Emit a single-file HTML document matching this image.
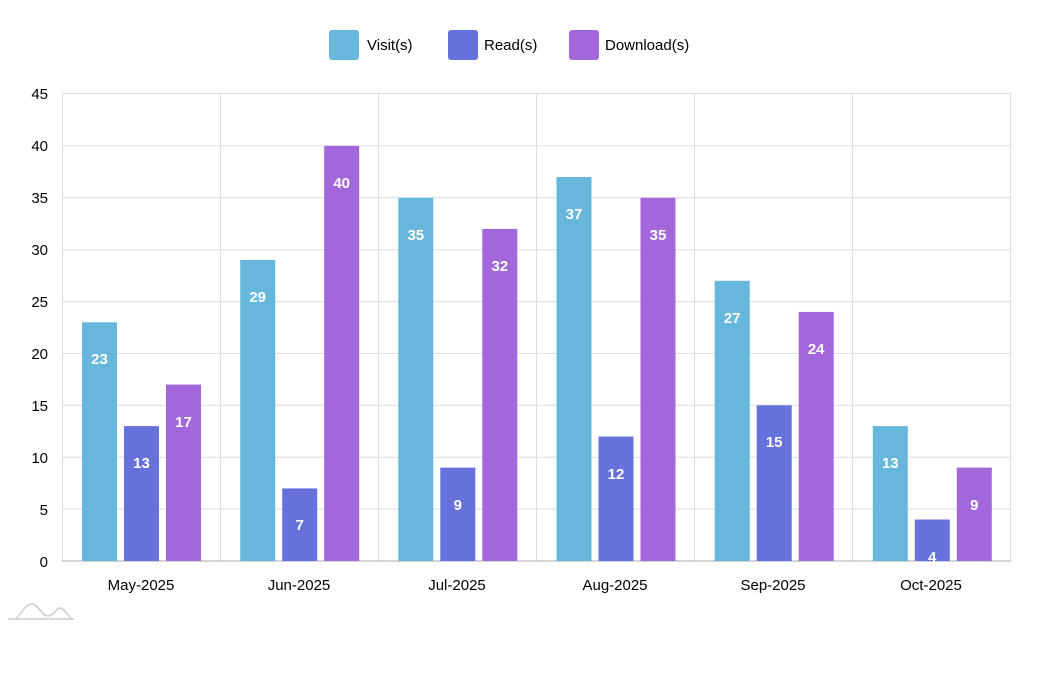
<!DOCTYPE html>
<html><head><meta charset="utf-8"><style>
html,body{margin:0;padding:0;background:#fff;}
svg text{font-family:"Liberation Sans",sans-serif;}
</style></head><body>
<svg width="1037" height="677" viewBox="0 0 1037 677" xmlns="http://www.w3.org/2000/svg">
<!-- legend -->
<rect x="329" y="30" width="30" height="30" rx="3" fill="#67b7dc"/>
<text x="367" y="50" font-size="15" fill="#000">Visit(s)</text>
<rect x="448" y="30" width="30" height="30" rx="3" fill="#6771dc"/>
<text x="484" y="50" font-size="15" fill="#000">Read(s)</text>
<rect x="569" y="30" width="30" height="30" rx="3" fill="#a367dc"/>
<text x="605" y="50" font-size="15" fill="#000">Download(s)</text>
<!-- grid -->
<g stroke="#dcdcdc" stroke-width="1">
<line x1="62" y1="93.5" x2="1011" y2="93.5"/>
<line x1="62" y1="145.9" x2="1011" y2="145.9"/>
<line x1="62" y1="197.8" x2="1011" y2="197.8"/>
<line x1="62" y1="249.7" x2="1011" y2="249.7"/>
<line x1="62" y1="301.6" x2="1011" y2="301.6"/>
<line x1="62" y1="353.4" x2="1011" y2="353.4"/>
<line x1="62" y1="405.3" x2="1011" y2="405.3"/>
<line x1="62" y1="457.2" x2="1011" y2="457.2"/>
<line x1="62" y1="509.1" x2="1011" y2="509.1"/>
<line x1="62.5" y1="93" x2="62.5" y2="561"/>
<line x1="220.5" y1="93" x2="220.5" y2="561"/>
<line x1="378.5" y1="93" x2="378.5" y2="561"/>
<line x1="536.5" y1="93" x2="536.5" y2="561"/>
<line x1="694.5" y1="93" x2="694.5" y2="561"/>
<line x1="852.5" y1="93" x2="852.5" y2="561"/>
<line x1="1010.5" y1="93" x2="1010.5" y2="561"/>
</g>
<line x1="62" y1="561" x2="1011" y2="561" stroke="#aaa" stroke-width="1"/>
<!-- y labels -->
<g font-size="15" fill="#000" text-anchor="end">
<text x="48" y="99">45</text><text x="48" y="151">40</text><text x="48" y="203">35</text>
<text x="48" y="255">30</text><text x="48" y="307">25</text><text x="48" y="359">20</text>
<text x="48" y="411">15</text><text x="48" y="463">10</text><text x="48" y="515">5</text>
<text x="48" y="567">0</text>
</g>
<!-- x labels -->
<g font-size="15" fill="#000" text-anchor="middle">
<text x="141" y="590">May-2025</text><text x="299" y="590">Jun-2025</text>
<text x="457" y="590">Jul-2025</text><text x="615" y="590">Aug-2025</text>
<text x="773" y="590">Sep-2025</text><text x="931" y="590">Oct-2025</text>
</g>
<!-- bars -->
<g>
<rect x="82" y="322.3" width="35" height="238.7" fill="#67b7dc"/>
<rect x="124" y="426.1" width="35" height="134.9" fill="#6771dc"/>
<rect x="166" y="384.6" width="35" height="176.4" fill="#a367dc"/>
<rect x="240.2" y="260" width="35" height="301" fill="#67b7dc"/>
<rect x="282.2" y="488.4" width="35" height="72.6" fill="#6771dc"/>
<rect x="324.2" y="145.9" width="35" height="415.1" fill="#a367dc"/>
<rect x="398.3" y="197.8" width="35" height="363.2" fill="#67b7dc"/>
<rect x="440.3" y="467.6" width="35" height="93.4" fill="#6771dc"/>
<rect x="482.3" y="228.9" width="35" height="332.1" fill="#a367dc"/>
<rect x="556.5" y="177" width="35" height="384" fill="#67b7dc"/>
<rect x="598.5" y="436.5" width="35" height="124.5" fill="#6771dc"/>
<rect x="640.5" y="197.8" width="35" height="363.2" fill="#a367dc"/>
<rect x="714.7" y="280.8" width="35" height="280.2" fill="#67b7dc"/>
<rect x="756.7" y="405.3" width="35" height="155.7" fill="#6771dc"/>
<rect x="798.7" y="311.9" width="35" height="249.1" fill="#a367dc"/>
<rect x="872.8" y="426.1" width="35" height="134.9" fill="#67b7dc"/>
<rect x="914.8" y="519.5" width="35" height="41.5" fill="#6771dc"/>
<rect x="956.8" y="467.6" width="35" height="93.4" fill="#a367dc"/>
</g>
<g font-size="15" font-weight="bold" fill="#fff" text-anchor="middle">
<text x="99.5" y="364">23</text><text x="141.5" y="468">13</text><text x="183.5" y="427">17</text>
<text x="257.7" y="302">29</text><text x="299.7" y="530">7</text><text x="341.7" y="188">40</text>
<text x="415.8" y="240">35</text><text x="457.8" y="510">9</text><text x="499.8" y="271">32</text>
<text x="574" y="219">37</text><text x="616" y="479">12</text><text x="658" y="240">35</text>
<text x="732.2" y="323">27</text><text x="774.2" y="447">15</text><text x="816.2" y="354">24</text>
<text x="890.3" y="468">13</text><text x="932.3" y="562">4</text><text x="974.3" y="510">9</text>
</g>
<!-- logo -->
<g fill="none" stroke="#ccc" stroke-width="1.5">
<path d="M8 619 L74 619"/>
<path d="M16 619 C22 612 26 604 32 604 C38 604 42 616 48 616 C54 616 56 608 60 608 C64 608 68 616 72 619"/>
</g>
</svg>
</body></html>
